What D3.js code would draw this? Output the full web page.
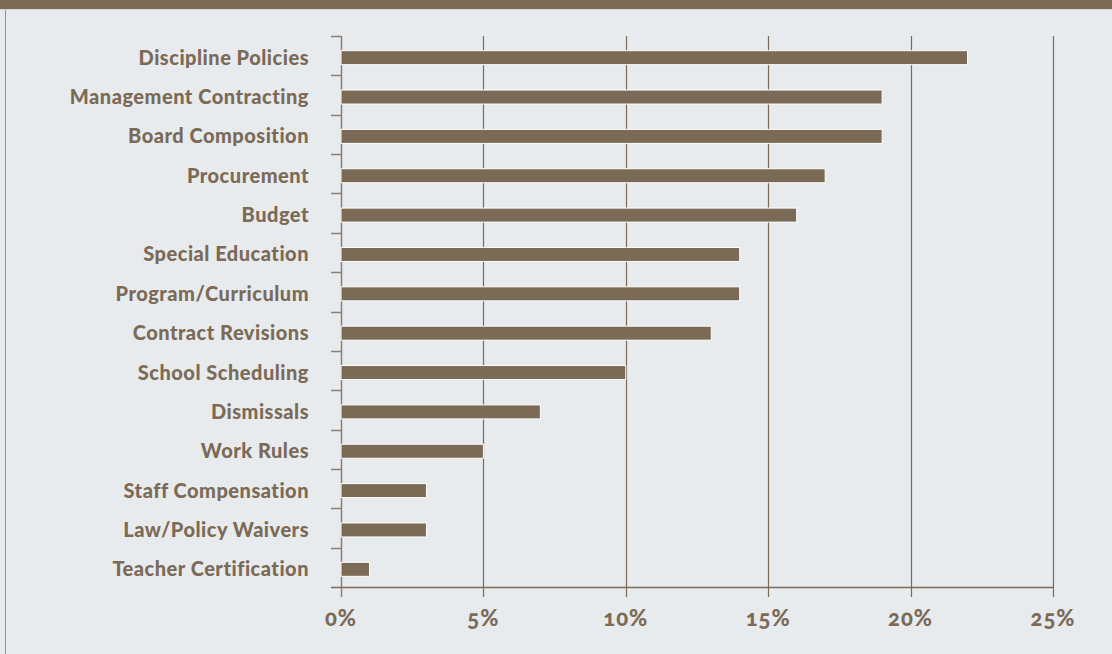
<!DOCTYPE html>
<html>
  <head>
    <script src="https://cdn.jsdelivr.net/npm/d3@7"></script>
    <style>
      body { margin: 0; background: #e8ebee; }
      text { font-family: Lato, "Open Sans", sans-serif; font-weight: 700; fill: #7b6a56; }
    </style>
  </head>
  <body>
    <script>
      // data
      var categories = ["Discipline Policies", "Management Contracting", "Board Composition",
        "Procurement", "Budget", "Special Education", "Program/Curriculum",
        "Contract Revisions", "School Scheduling", "Dismissals", "Work Rules",
        "Staff Compensation", "Law/Policy Waivers", "Teacher Certification"];
      var values = [22, 19, 19, 17, 16, 14, 14, 13, 10, 7, 5, 3, 3, 1];
      var tickValues = [0, 5, 10, 15, 20, 25];
      var tickLabels = ["0%", "5%", "10%", "15%", "20%", "25%"];

      var W = 1112, H = 654;
      var brown = "#7b6a56";
      var margin = {top: 36, right: 59, bottom: 67, left: 341};
      var w = W - margin.left - margin.right;
      var h = H - margin.top - margin.bottom;

      var svg = d3.select("body").append("svg")
          .attr("width", W)
          .attr("height", H);

      // background + frame
      svg.append("rect").attr("width", W).attr("height", H).attr("fill", "#e8ebee");
      svg.append("rect").attr("x", 0).attr("y", 0).attr("width", W).attr("height", 9).attr("fill", brown);
      svg.append("line").attr("x1", 0).attr("x2", W).attr("y1", 9.5).attr("y2", 9.5)
         .attr("stroke", "#d9d6d0").attr("stroke-width", 1);
      svg.append("line").attr("x1", 5.5).attr("x2", 5.5).attr("y1", 10).attr("y2", H)
         .attr("stroke", "#9a8f84").attr("stroke-width", 1);

      var g = svg.append("g")
          .attr("transform", "translate(" + margin.left + "," + margin.top + ")");

      var x = d3.scaleLinear().domain([0, 25]).range([0, w]);
      var y = d3.scaleBand().domain(categories).range([0, h]);
      var bw = y.bandwidth();
      var barH = 14;
      var shift = 2;

      // vertical grid lines (through the bottom tick)
      g.selectAll(".grid")
        .data(tickValues.slice(1))
        .enter().append("line")
        .attr("x1", function(d) { return Math.round(x(d)) + 0.5; })
        .attr("x2", function(d) { return Math.round(x(d)) + 0.5; })
        .attr("y1", 0)
        .attr("y2", h + 10)
        .attr("stroke", brown)
        .attr("stroke-width", 1.2);

      // y axis line and category boundary ticks
      g.append("line")
        .attr("x1", 0.5).attr("x2", 0.5).attr("y1", 0).attr("y2", h + 10)
        .attr("stroke", "#8c7f72").attr("stroke-width", 1.5);
      var bounds = categories.map(function(c) { return y(c); });
      g.selectAll(".ytick")
        .data(bounds)
        .enter().append("line")
        .attr("x1", -10).attr("x2", 0)
        .attr("y1", function(d) { return Math.round(d) + 0.5; })
        .attr("y2", function(d) { return Math.round(d) + 0.5; })
        .attr("stroke", "#8c7f72").attr("stroke-width", 1.5);

      // x axis line
      g.append("line")
        .attr("x1", -10).attr("x2", x(25) + 0.5)
        .attr("y1", h + 0.5).attr("y2", h + 0.5)
        .attr("stroke", brown).attr("stroke-width", 1.5);

      // bars
      g.selectAll(".bar")
        .data(values)
        .enter().append("rect")
        .attr("class", "bar")
        .attr("x", 0)
        .attr("y", function(d, i) { return y(categories[i]) + (bw - barH) / 2 + shift; })
        .attr("width", function(d) { return x(d); })
        .attr("height", barH)
        .attr("fill", brown)
        .attr("stroke", "#ffffff")
        .attr("stroke-width", 1);

      // category labels
      g.selectAll(".label")
        .data(categories)
        .enter().append("text")
        .attr("x", -32)
        .attr("y", function(d) { return y(d) + bw / 2 + shift; })
        .attr("dy", "0.35em")
        .attr("text-anchor", "end")
        .style("font-size", "20px")
        .style("font-weight", "900")
        .style("letter-spacing", "0.5px")
        .text(function(d) { return d; });

      // x tick labels
      g.selectAll(".xlabel")
        .data(tickValues)
        .enter().append("text")
        .attr("x", function(d) { return x(d); })
        .attr("y", h + 31)
        .attr("dy", "0.35em")
        .attr("text-anchor", "middle")
        .style("font-size", "22px")
        .style("font-weight", "900")
        .style("letter-spacing", "1px")
        .style("font-variant-numeric", "oldstyle-nums")
        .text(function(d, i) { return tickLabels[i]; });
    </script>
  </body>
</html>
